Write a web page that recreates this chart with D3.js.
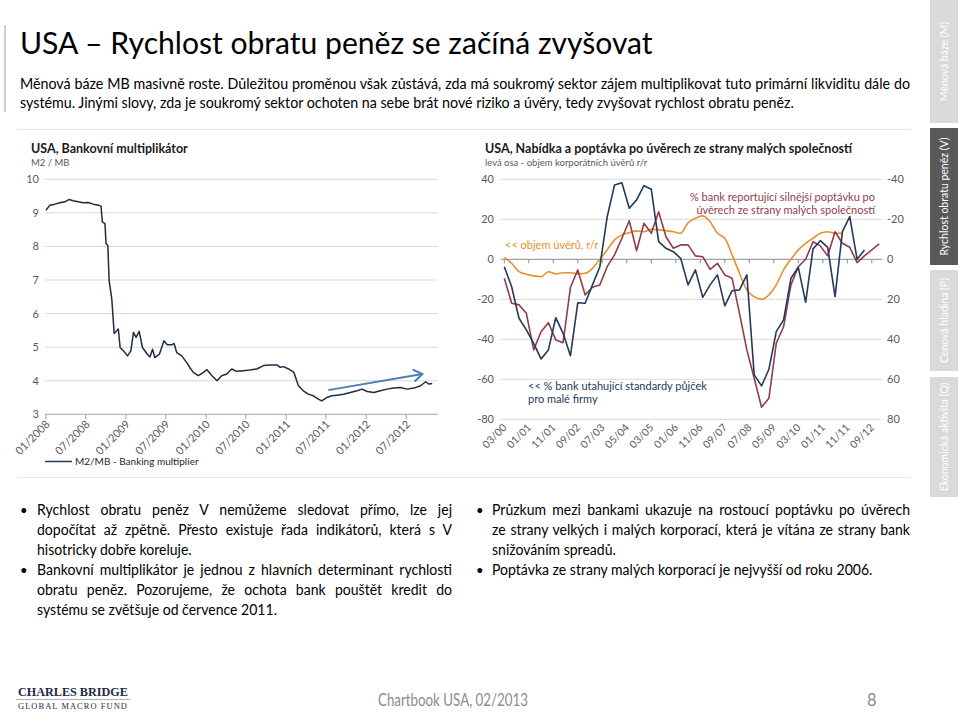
<!DOCTYPE html>
<html><head><meta charset="utf-8">
<script src="https://cdn.jsdelivr.net/npm/d3@7"></script>
<style>body{margin:0;background:#fff}svg{display:block}</style>
</head><body>
<svg id="c" width="960" height="712"></svg>
<script>
// ---------------- DATA ----------------
// Left chart: USA bank multiplier M2/MB
const multDates = ["2008-01-04","2008-01-22","2008-02-14","2008-03-07","2008-03-30","2008-04-19","2008-05-07","2008-05-30","2008-06-22","2008-07-14","2008-08-07","2008-08-30","2008-09-11","2008-09-17","2008-09-29","2008-10-04","2008-10-12","2008-10-18","2008-10-30","2008-11-10","2008-11-29","2008-12-07","2008-12-22","2009-01-10","2009-01-25","2009-02-06","2009-02-18","2009-03-04","2009-03-19","2009-04-10","2009-04-22","2009-05-04","2009-05-14","2009-06-04","2009-06-25","2009-07-10","2009-07-30","2009-08-10","2009-08-22","2009-09-14","2009-10-07","2009-10-22","2009-11-06","2009-11-29","2009-12-22","2010-01-07","2010-01-30","2010-02-22","2010-03-15","2010-04-07","2010-04-30","2010-05-22","2010-06-22","2010-07-22","2010-08-22","2010-09-22","2010-10-22","2010-11-22","2010-12-07","2010-12-22","2011-01-14","2011-02-07","2011-02-28","2011-03-22","2011-04-14","2011-05-07","2011-05-30","2011-06-14","2011-07-07","2011-07-30","2011-08-22","2011-09-22","2011-10-22","2011-11-22","2011-12-15","2012-01-07","2012-02-07","2012-03-07","2012-04-07","2012-05-07","2012-06-07","2012-07-07","2012-08-07","2012-09-07","2012-09-30","2012-10-15","2012-10-30"];
const multValues = [9.08,9.23,9.26,9.30,9.33,9.40,9.36,9.33,9.30,9.31,9.26,9.23,9.20,8.73,8.68,8.08,8.03,6.98,6.44,5.41,5.54,4.99,4.89,4.74,4.89,5.44,5.29,5.47,4.99,4.79,4.71,4.94,4.69,4.79,5.19,5.07,5.07,5.11,4.84,4.74,4.54,4.38,4.25,4.15,4.25,4.33,4.15,4.00,4.15,4.20,4.35,4.28,4.30,4.32,4.35,4.45,4.47,4.47,4.40,4.42,4.35,4.25,3.85,3.70,3.60,3.55,3.45,3.40,3.50,3.55,3.57,3.60,3.65,3.70,3.75,3.68,3.65,3.70,3.75,3.78,3.80,3.75,3.78,3.85,3.97,3.90,3.92];
const multTickLabels = ["01/2008","07/2008","01/2009","07/2009","01/2010","07/2010","01/2011","07/2011","01/2012","07/2012"];
const multYTicks = [3,4,5,6,7,8,9,10];
const trendArrow = [["2011-07-14",3.72],["2012-09-15",4.20]];

// Right chart: quarterly survey data, first quarter = 03/2000
// % banks tightening standards for small firms (right axis, inverted)
const tightening = [3.7,13.7,29.5,35.3,42,49.8,45.3,29.2,37,48.2,21.7,22,12.8,3.7,-21.3,-37.2,-38.3,-25.5,-29.7,-36.8,-35,-8.8,-5.5,-3.8,-0.5,12.8,5.3,19,12.8,7.8,23.3,15.7,15.3,7.8,57.8,63.3,55,36.2,30.3,9.5,4,21.5,-5.2,-9.3,-6,18.7,-13.8,-21.3,0,-4.7];
// % banks reporting stronger demand from small firms
const demand = [-9.5,-22,-22.8,-27,-45.3,-36.2,-31.7,-40.3,-41.7,-14,-5.3,-17.8,-14,-12.8,-3.7,2.2,10.5,19.3,4.3,18,13,23.8,11.3,5.5,7.2,7.2,1.7,1.3,-5,-2,-7.8,-9.5,-27,-45.3,-59.5,-74,-69.5,-42,-33.7,-12.8,-3.7,0,8.8,6.7,1.7,13.8,8,6,-1.7,1.7,4.7,7.7];
// corporate loan volume, y/y % (left axis)
const loanGrowth = [1,-2,-6.2,-7.5,-8.3,-8.7,-6.2,-7.3,-6.7,-6.7,-7.3,-7,-4.5,0,4.7,9.7,12.2,13.3,14.2,13.8,15,14.7,14.3,13.8,13,18.2,20.5,21.7,18.8,13,10.5,2.2,-7,-15.3,-18.7,-20,-17.8,-12.8,-5.3,0,4.7,8,10.5,13,13.8,13,13];
const sloosTickLabels = ["03/00","01/01","11/01","09/02","07/03","05/04","03/05","01/06","11/06","09/07","07/08","05/09","03/10","01/11","11/11","09/12"];
const leftTicks = [40,20,0,-20,-40,-60,-80];
const rightTicks = [-40,-20,0,20,40,60,80];

// Text
const titleText = "USA – Rychlost obratu peněz se začíná zvyšovat";
const introLines = ["Měnová báze MB masivně roste. Důležitou proměnou však zůstává, zda má soukromý sektor zájem multiplikovat tuto primární likviditu dále do",
  "systému. Jinými slovy, zda je soukromý sektor ochoten na sebe brát nové riziko a úvěry, tedy zvyšovat rychlost obratu peněz."];
const leftBullets = [
  {t:"Rychlost obratu peněz V nemůžeme sledovat přímo, lze jej", b:true, j:true},
  {t:"dopočítat až zpětně. Přesto existuje řada indikátorů, která s V", j:true},
  {t:"hisotricky dobře koreluje."},
  {t:"Bankovní multiplikátor je jednou z hlavních determinant rychlosti", b:true, j:true},
  {t:"obratu peněz. Pozorujeme, že ochota bank pouštět kredit do", j:true},
  {t:"systému se zvětšuje od července 2011."}];
const rightBullets = [
  {t:"Průzkum mezi bankami ukazuje na rostoucí poptávku po úvěrech", b:true, j:true},
  {t:"ze strany velkých i malých korporací, která je vítána ze strany bank", j:true},
  {t:"snižováním spreadů."},
  {t:"Poptávka ze strany malých korporací je nejvyšší od roku 2006.", b:true}];
const sideTabs = [
  {t:"Měnová báze (M)", active:false},
  {t:"Rychlost obratu peněz (V)", active:true},
  {t:"Cenová hladina (P)", active:false},
  {t:"Ekonomická aktivita (Q)", active:false}];

// ---------------- DRAWING ----------------
const FONT = "Lato, 'Open Sans', sans-serif";
const svg = d3.select("#c");
const C = {navy:"#243a5a", brown:"#943c4c", orange:"#e4912c", axis:"#595959", grid:"#d9d9d9", line:"#1f2d40"};

function txt(g, x, y, s, o = {}) {
  const t = g.append("text").attr("x", x).attr("y", y).text(s)
    .attr("font-family", o.family || FONT).attr("font-size", o.size || 12)
    .attr("fill", o.fill || "#000").attr("font-weight", o.weight || "normal")
    .attr("text-anchor", o.anchor || "start");
  if (o.ls) t.attr("letter-spacing", o.ls);
  return t;
}
function fitText(g, x, y, s, target, o = {}) {
  const grp = g.append("g");
  const t = txt(grp, 0, 0, s, o);
  const nat = t.node().getComputedTextLength();
  const k = target / nat;
  grp.attr("transform", `translate(${x},${y}) scale(${k},1)`);
  return k;
}
function scaledLine(g, x, y, s, k, o = {}, justifyW) {
  const grp = g.append("g").attr("transform", `translate(${x},${y}) scale(${k},1)`);
  const t = txt(grp, 0, 0, s, o);
  if (justifyW) {
    const nat = t.node().getComputedTextLength();
    const sp = (s.match(/ /g) || []).length;
    const tw = justifyW / k;
    if (sp && nat < tw) t.attr("word-spacing", (tw - nat) / sp);
    else t.attr("textLength", tw).attr("lengthAdjust", "spacingAndGlyphs");
  }
}

// Title area
svg.append("line").attr("x1", 5).attr("x2", 5).attr("y1", 25).attr("y2", 112)
  .attr("stroke", "#bfbfbf").attr("stroke-width", 1.5);
fitText(svg, 20, 54, titleText, 633, {size: 31, fill: "#000"});
const kIntro = fitText(svg, 20, 108, introLines[1], 775, {size: 15.5});
scaledLine(svg, 20, 89, introLines[0], kIntro, {size: 15.5}, 890);

svg.append("line").attr("x1", 18).attr("x2", 910).attr("y1", 129.5).attr("y2", 129.5).attr("stroke", "#e6e6e6");
svg.append("line").attr("x1", 18).attr("x2", 910).attr("y1", 477.5).attr("y2", 477.5).attr("stroke", "#e6e6e6");

// Side tabs
const tabBounds = [[0,123],[128,265],[270,371],[377,497]];
sideTabs.forEach((d, i) => {
  const [y0, y1] = tabBounds[i];
  svg.append("rect").attr("x", 930).attr("y", y0).attr("width", 28).attr("height", y1 - y0)
    .attr("fill", d.active ? "#595959" : "#d9d9d9");
  const cy = (y0 + y1) / 2;
  txt(svg, 0, 0, d.t, {size: 10.5, fill: "#fff", anchor: "middle"})
    .attr("transform", `translate(948,${cy}) rotate(-90)`);
});

// ---------- Left chart ----------
const L = svg.append("g");
txt(L, 31, 153, "USA, Bankovní multiplikátor", {size: 12.5, weight: "bold", fill: "#1a1a1a"});
txt(L, 31, 166, "M2 / MB", {size: 9.5, fill: C.axis});
const parse = d3.timeParse("%Y-%m-%d");
const tickDates = multTickLabels.map(s => d3.timeParse("%m/%Y")(s));
const xL = d3.scaleTime().domain([tickDates[0], tickDates[tickDates.length - 1]]).range([45.3, 405.7]);
const yL = d3.scaleLinear().domain([3, 10]).range([414.3, 179.3]);
const gx0 = 45, gx1 = 438;
multYTicks.forEach(v => {
  if (v > 3) L.append("line").attr("x1", gx0).attr("x2", gx1).attr("y1", yL(v)).attr("y2", yL(v))
    .attr("stroke", C.grid).attr("stroke-width", 1);
  txt(L, 39, yL(v) + 4, String(v), {size: 11, fill: C.axis, anchor: "end"});
});
const axL = L.append("g").attr("transform", `translate(0,${yL(3)})`)
  .call(d3.axisBottom(xL).tickValues(tickDates).tickFormat(d3.timeFormat("%m/%Y")).tickSizeOuter(0).tickSize(5));
axL.select(".domain").attr("stroke", "#a6a6a6").attr("d", `M${gx0},0H${gx1}`);
axL.selectAll(".tick line").attr("stroke", "#a6a6a6");
axL.selectAll(".tick text").attr("font-family", FONT).attr("font-size", 11).attr("fill", C.axis)
  .attr("text-anchor", "end").attr("transform", "translate(2,8) rotate(-45)").attr("dy", "0.35em").attr("y", 0).attr("x", 0);
const multData = multDates.map((d, i) => ({d: parse(d), v: multValues[i]}));
L.append("path").datum(multData).attr("fill", "none").attr("stroke", C.line).attr("stroke-width", 1.5)
  .attr("stroke-linejoin", "round")
  .attr("d", d3.line().x(d => xL(d.d)).y(d => yL(d.v)));
const a0 = [xL(parse(trendArrow[0][0])), yL(trendArrow[0][1])];
const a1 = [xL(parse(trendArrow[1][0])), yL(trendArrow[1][1])];
L.append("line").attr("x1", a0[0]).attr("y1", a0[1]).attr("x2", a1[0]).attr("y2", a1[1])
  .attr("stroke", "#4a7ebb").attr("stroke-width", 2);
const ang = Math.atan2(a1[1] - a0[1], a1[0] - a0[0]);
[ang + 2.55, ang - 2.55].forEach(t => {
  L.append("line").attr("x1", a1[0]).attr("y1", a1[1]).attr("x2", a1[0] + 10 * Math.cos(t)).attr("y2", a1[1] + 10 * Math.sin(t))
    .attr("stroke", "#4a7ebb").attr("stroke-width", 2).attr("stroke-linecap", "round");
});
L.append("line").attr("x1", 45).attr("x2", 72).attr("y1", 461.5).attr("y2", 461.5).attr("stroke", C.navy).attr("stroke-width", 1.5);
txt(L, 75, 465, "M2/MB - Banking multiplier", {size: 10, fill: "#262626"});

// ---------- Right chart ----------
const R = svg.append("g");
txt(R, 485, 153, "USA, Nabídka a poptávka po úvěrech ze strany malých společností", {size: 12.5, weight: "bold", fill: "#1a1a1a"});
txt(R, 485, 166, "levá osa - objem korporátních úvěrů r/r", {size: 9.5, fill: C.axis});
const xR = d3.scaleLinear().domain([0, 150]).range([504.3, 871.8]); // months since 03/2000
const yLeft = d3.scaleLinear().domain([-80, 40]).range([419.3, 179.3]);
const yRight = d3.scaleLinear().domain([80, -40]).range([419.3, 179.3]);
const rx0 = 501, rx1 = 882;
leftTicks.forEach(v => {
  R.append("line").attr("x1", rx0).attr("x2", rx1).attr("y1", yLeft(v)).attr("y2", yLeft(v))
    .attr("stroke", v === 0 ? "#8c8c8c" : C.grid).attr("stroke-width", 1);
  txt(R, 494, yLeft(v) + 4, String(v), {size: 11, fill: C.axis, anchor: "end"});
});
rightTicks.forEach(v => txt(R, 887, yRight(v) + 4, String(v), {size: 11, fill: C.axis}));
sloosTickLabels.forEach((s, i) => {
  const m = i * 10;
  R.append("line").attr("x1", xR(m)).attr("x2", xR(m)).attr("y1", yLeft(0)).attr("y2", yLeft(0) + 4).attr("stroke", "#8c8c8c");
  txt(R, 0, 0, s, {size: 10.5, fill: C.axis, anchor: "end"})
    .attr("transform", `translate(${xR(m) + 3},${yLeft(-80) + 9}) rotate(-45)`);
});
const q = i => i * 3;
R.append("path").datum(loanGrowth).attr("fill", "none").attr("stroke", C.orange).attr("stroke-width", 1.6)
  .attr("d", d3.line().curve(d3.curveMonotoneX).x((d, i) => xR(q(i))).y(d => yLeft(d)));
R.append("path").datum(demand).attr("fill", "none").attr("stroke", C.brown).attr("stroke-width", 1.6)
  .attr("stroke-linejoin", "round")
  .attr("d", d3.line().x((d, i) => xR(q(i))).y(d => yLeft(d)));
R.append("path").datum(tightening).attr("fill", "none").attr("stroke", C.navy).attr("stroke-width", 1.6)
  .attr("stroke-linejoin", "round")
  .attr("d", d3.line().x((d, i) => xR(q(i))).y(d => yRight(d)));
txt(R, 875, 201, "% bank reportující silnější poptávku po", {size: 11, fill: C.brown, anchor: "end"});
txt(R, 875, 214, "úvěrech ze strany malých společností", {size: 11, fill: C.brown, anchor: "end"});
txt(R, 505, 249, "<< objem úvěrů, r/r", {size: 11, fill: C.orange});
txt(R, 528, 390, "<< % bank utahující standardy půjček", {size: 11, fill: C.navy});
txt(R, 528, 403, "pro malé firmy", {size: 11, fill: C.navy});

// ---------- Bullets ----------
const B = svg.append("g");
const bSize = 15;
const probe = txt(B, 0, -50, rightBullets[3].t, {size: bSize});
const kB = 381 / probe.node().getComputedTextLength();
probe.remove();
function bulletCol(lines, bx, tx, w) {
  lines.forEach((l, i) => {
    const y = 515 + i * 20;
    if (l.b) txt(B, bx, y, "•", {size: 13, fill: "#000"});
    scaledLine(B, tx, y, l.t, kB, {size: bSize, fill: "#000"}, l.j ? w : null);
  });
}
bulletCol(leftBullets, 20, 37, 415);
bulletCol(rightBullets, 476, 492, 418);

// ---------- Footer ----------
const F = svg.append("g");
fitText(F, 18, 696, "CHARLES BRIDGE", 110, {size: 13, family: "'Liberation Serif', 'DejaVu Serif', serif", weight: "bold", fill: "#1c2a44"});
F.append("line").attr("x1", 16).attr("x2", 130).attr("y1", 699.5).attr("y2", 699.5).attr("stroke", "#9a9a9a").attr("stroke-width", 0.8);
fitText(F, 18, 709, "GLOBAL MACRO FUND", 110, {size: 8, family: "'Liberation Serif', 'DejaVu Serif', serif", fill: "#1c2a44", ls: 1});
fitText(F, 378, 706, "Chartbook USA, 02/2013", 150, {size: 17, fill: "#8c8c8c"});
txt(F, 867, 706, "8", {size: 16.5, fill: "#8c8c8c"});
</script>
</body></html>
